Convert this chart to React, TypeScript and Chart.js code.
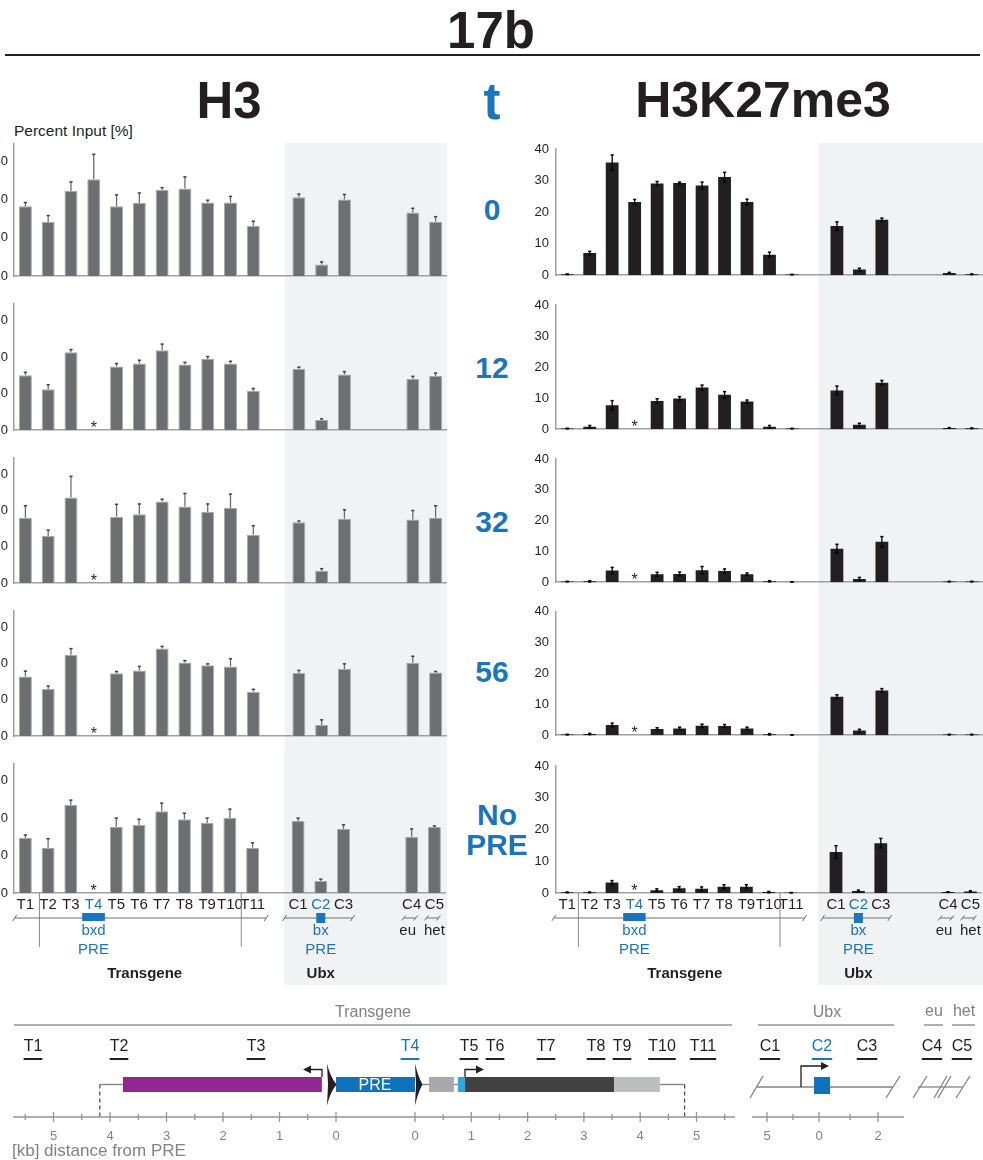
import React, { useEffect, useRef } from 'react';
import { Chart, registerables } from 'chart.js';

Chart.register(...registerables);

const FONT = '"Liberation Sans", Arial, Helvetica, sans-serif';
Chart.defaults.font.family = FONT;

const BLUE = '#1b75bc';
const INK = '#231f20';
const GRAY_TXT = '#808285';
const LINE_GRAY = '#9d9fa2';
const BAND = '#f1f2f3';

// ---------------- data ----------------
const CATEGORIES = ['T1', 'T2', 'T3', 'T4', 'T5', 'T6', 'T7', 'T8', 'T9', 'T10', 'T11', 'C1', 'C2', 'C3', 'C4', 'C5'];
// x tick labels over the 19 slots ('' = spacer slot)
const SLOT_LABELS = ['T1', 'T2', 'T3', 'T4', 'T5', 'T6', 'T7', 'T8', 'T9', 'T10', 'T11', '', 'C1', 'C2', 'C3', '', '', 'C4', 'C5'];
const HIGHLIGHT = ['T4', 'C2'];
const TIMEPOINTS = ['0', '12', '32', '56', 'No PRE'];
const H3_TICKS = [0, 10, 20, 30];
const K27_TICKS = [0, 10, 20, 30, 40];

// H3, Percent Input [%]
const H3_T0 = [18.2, 14.1, 22.2, 25.3, 18.2, 19.1, 22.5, 22.9, 19.2, 19.2, 13.1, 20.6, 3.0, 20.0, 16.6, 14.2];
const H3_T0_ERR = [1.0, 1.7, 2.4, 6.5, 3.0, 2.6, 0.6, 3.0, 0.6, 1.6, 1.2, 0.8, 0.7, 1.3, 1.1, 1.3];
const H3_T12 = [15.0, 11.2, 21.3, null, 17.4, 18.2, 21.8, 17.9, 19.4, 18.2, 10.7, 16.8, 2.8, 15.2, 14.0, 14.8];
const H3_T12_ERR = [0.8, 1.2, 0.7, null, 0.8, 0.9, 1.7, 0.6, 0.7, 0.6, 0.7, 0.4, 0.3, 0.8, 0.7, 0.8];
const H3_T32 = [18.0, 13.0, 23.6, null, 18.3, 19.0, 22.5, 21.1, 19.6, 20.7, 13.3, 16.8, 3.4, 17.7, 17.5, 18.0];
const H3_T32_ERR = [3.3, 1.6, 5.8, null, 3.4, 2.8, 0.6, 3.6, 2.2, 3.8, 2.5, 0.3, 0.6, 2.5, 2.5, 3.3];
const H3_T56 = [16.4, 13.0, 22.4, null, 17.3, 18.1, 24.1, 20.3, 19.5, 19.2, 12.2, 17.4, 3.1, 18.5, 20.2, 17.5];
const H3_T56_ERR = [1.5, 0.8, 1.7, null, 0.5, 1.1, 0.6, 0.5, 0.4, 2.1, 0.7, 0.7, 1.4, 1.4, 1.8, 0.3];
const H3_NOPRE = [14.7, 12.1, 23.5, null, 17.6, 18.2, 21.8, 19.7, 18.7, 20.0, 12.1, 19.2, 3.2, 17.1, 15.0, 17.6];
const H3_NOPRE_ERR = [0.8, 2.4, 1.3, null, 2.4, 1.5, 2.2, 1.6, 1.3, 2.4, 1.3, 0.8, 0.5, 1.1, 2.1, 0.3];

// H3K27me3, Percent Input [%]
const K27_T0 = [0.3, 7.05, 35.7, 23.2, 29.1, 29.2, 28.4, 31.1, 23.2, 6.5, 0.2, 15.6, 1.8, 17.6, 0.7, 0.3];
const K27_T0_ERR = [0.1, 0.5, 2.4, 0.8, 0.6, 0.3, 1.1, 1.5, 0.9, 0.8, 0.1, 1.3, 0.4, 0.5, 0.2, 0.1];
const K27_T12 = [0.2, 0.8, 7.7, null, 9.1, 9.9, 13.4, 11.1, 8.9, 0.8, 0.2, 12.5, 1.4, 15.0, 0.4, 0.3];
const K27_T12_ERR = [0.1, 0.4, 1.5, null, 0.7, 0.6, 0.8, 1.0, 0.5, 0.4, 0.1, 1.4, 0.5, 0.7, 0.1, 0.1];
const K27_T32 = [0.2, 0.3, 3.8, null, 2.6, 2.7, 3.9, 3.6, 2.6, 0.3, 0.1, 10.9, 1.05, 13.1, 0.2, 0.2];
const K27_T32_ERR = [0.1, 0.2, 1.0, null, 0.6, 0.6, 1.2, 0.7, 0.4, 0.2, 0.05, 1.4, 0.5, 1.7, 0.1, 0.1];
const K27_T56 = [0.2, 0.4, 3.3, null, 2.0, 2.2, 3.05, 2.95, 2.2, 0.3, 0.1, 12.5, 1.5, 14.5, 0.2, 0.2];
const K27_T56_ERR = [0.1, 0.2, 0.6, null, 0.4, 0.4, 0.5, 0.5, 0.4, 0.2, 0.05, 0.6, 0.4, 0.6, 0.1, 0.1];
const K27_NOPRE = [0.2, 0.2, 3.3, null, 0.9, 1.5, 1.3, 2.0, 2.0, 0.3, 0.1, 12.9, 0.6, 15.7, 0.3, 0.5];
const K27_NOPRE_ERR = [0.1, 0.1, 0.6, null, 0.4, 0.5, 0.6, 0.6, 0.6, 0.2, 0.05, 2.0, 0.3, 1.5, 0.1, 0.2];

const H3_SERIES = [H3_T0, H3_T12, H3_T32, H3_T56, H3_NOPRE];
const H3_ERRS = [H3_T0_ERR, H3_T12_ERR, H3_T32_ERR, H3_T56_ERR, H3_NOPRE_ERR];
const K27_SERIES = [K27_T0, K27_T12, K27_T32, K27_T56, K27_NOPRE];
const K27_ERRS = [K27_T0_ERR, K27_T12_ERR, K27_T32_ERR, K27_T56_ERR, K27_NOPRE_ERR];

// schematic
const TG_TICKS_LEFT = [5, 4, 3, 2, 1, 0];
const TG_TICKS_RIGHT = [0, 1, 2, 3, 4, 5];
const UBX_TICK_LABELS = ['5', '0', '2'];
const PRIMERS = ['T1', 'T2', 'T3', 'T4', 'T5', 'T6', 'T7', 'T8', 'T9', 'T10', 'T11', 'C1', 'C2', 'C3', 'C4', 'C5'];

// ---------------- layout ----------------
const ROW_TOPS = [125, 290, 444, 597, 750];
const ROW_BOTTOMS = [290, 444, 597, 750, 995];
const ROW_BASES = [276, 432, 586, 738, 893];
const BAND_TOP = 143;
const BAND_BOTTOM = 985;
const PRIMER_X = [33, 119, 256, 410, 469, 495, 546, 596, 622, 662, 703, 770, 822, 867, 932, 962];
const TIME_Y = [210, 368, 522, 672, 830];

type SideKey = 'h3' | 'k27';
const SIDES: Record<SideKey, any> = {
  h3: { left: -20, width: 467, yw: 34, plotH: 132, max: 34.5, ticks: H3_TICKS, fill: '#6d6e71', border: '#a7a9ac', borderWidth: 1, bandOff: 0.62, oneSided: true, errColor: '#6d6e71', capColor: '#414042', tickPad: 6, vlineA: 0.62, lineStart: -0.47 },
  k27: { left: 520, width: 463, yw: 36, plotH: 127, max: 40, ticks: K27_TICKS, fill: '#231f20', border: '#231f20', borderWidth: 0, bandOff: 0.8, oneSided: false, errColor: '#000000', capColor: '#000000', tickPad: 7, vlineA: 0.5, lineStart: -0.6 },
};

function toSlots(vals: (number | null)[]) {
  return SLOT_LABELS.map((l) => (l === '' ? null : vals[CATEGORIES.indexOf(l)]));
}

function slotX(chart: any, f: number) {
  const xs = chart.scales.x;
  const p0 = xs.getPixelForValue(0);
  const p1 = xs.getPixelForValue(1);
  return p0 + f * (p1 - p0);
}

function seg(ctx: CanvasRenderingContext2D, x1: number, y1: number, x2: number, y2: number) {
  ctx.beginPath();
  ctx.moveTo(x1, y1);
  ctx.lineTo(x2, y2);
  ctx.stroke();
}

function BarRow({ side, row }: { side: SideKey; row: number }) {
  const ref = useRef<HTMLCanvasElement>(null);
  const cfg = SIDES[side];
  const top = ROW_TOPS[row];
  const bottom = ROW_BOTTOMS[row];
  const base = ROW_BASES[row];
  const h = bottom - top;
  const isBottom = row === ROW_TOPS.length - 1;

  useEffect(() => {
    const values = toSlots((side === 'h3' ? H3_SERIES : K27_SERIES)[row]);
    const errs = toSlots((side === 'h3' ? H3_ERRS : K27_ERRS)[row]);
    const iT4 = SLOT_LABELS.indexOf('T4');
    const iC1 = SLOT_LABELS.indexOf('C1');
    const iC2 = SLOT_LABELS.indexOf('C2');
    const iC4 = SLOT_LABELS.indexOf('C4');
    const iC5 = SLOT_LABELS.indexOf('C5');
    const Y = (py: number) => py - top;

    const plugin = {
      id: 'deco',
      beforeDraw(chart: any) {
        const ctx = chart.ctx;
        const x0 = slotX(chart, iC1 - cfg.bandOff);
        const y0 = row === 0 ? Y(BAND_TOP) : 0;
        const y1 = isBottom ? Y(BAND_BOTTOM) : h;
        ctx.save();
        ctx.fillStyle = BAND;
        ctx.fillRect(x0, y0, chart.width - x0, y1 - y0);
        ctx.restore();
      },
      afterDatasetsDraw(chart: any) {
        const ctx = chart.ctx;
        const xs = chart.scales.x;
        const ys = chart.scales.y;
        ctx.save();
        values.forEach((v, i) => {
          if (v == null) return;
          const e = errs[i];
          if (!e) return;
          const x = xs.getPixelForValue(i);
          const yT = ys.getPixelForValue(v + e);
          const yB = cfg.oneSided ? ys.getPixelForValue(v) : ys.getPixelForValue(Math.max(v - e, 0));
          ctx.strokeStyle = cfg.errColor;
          ctx.lineWidth = 1.3;
          seg(ctx, x, yB, x, yT);
          ctx.strokeStyle = cfg.capColor;
          ctx.lineWidth = 1.5;
          seg(ctx, x - 1.6, yT, x + 1.6, yT);
          if (!cfg.oneSided) seg(ctx, x - 1.6, yB, x + 1.6, yB);
        });
        if (values[iT4] == null) {
          ctx.fillStyle = INK;
          ctx.font = `16px ${FONT}`;
          ctx.textAlign = 'center';
          ctx.textBaseline = 'alphabetic';
          ctx.fillText('*', xs.getPixelForValue(iT4), ys.getPixelForValue(0) + 3);
        }
        ctx.restore();
      },
      afterDraw(chart: any) {
        if (!isBottom) return;
        const ctx = chart.ctx;
        const sx = (f: number) => slotX(chart, f);
        const slot = sx(1) - sx(0);
        ctx.save();
        ctx.strokeStyle = '#8a8c8e';
        ctx.lineWidth = 1;
        [cfg.vlineA, 9.5].forEach((f) => seg(ctx, sx(f), Y(893), sx(f), Y(947)));
        const ly = Y(918);
        const axisSeg = (a: number, b: number) => {
          ctx.strokeStyle = '#6d6e71';
          ctx.lineWidth = 1;
          seg(ctx, a, ly, b, ly);
          seg(ctx, a - 2, ly + 3, a + 2, ly - 3);
          seg(ctx, b - 2, ly + 3, b + 2, ly - 3);
        };
        axisSeg(sx(cfg.lineStart), sx(10.6));
        axisSeg(sx(iC1 - 0.6), sx(iC1 + 2.4));
        [iC4, iC5].forEach((i) => {
          const c = sx(i) - 2;
          ctx.strokeStyle = '#6d6e71';
          seg(ctx, c - 6, ly, c + 6, ly);
          seg(ctx, c - 8, ly + 2.5, c - 4, ly - 2.5);
          seg(ctx, c + 4, ly + 2.5, c + 8, ly - 2.5);
        });
        ctx.fillStyle = BLUE;
        ctx.fillRect(sx(iT4 - 0.5), Y(913), slot, 8);
        ctx.fillRect(sx(iC2) - 4.5, Y(913), 9, 10);
        ctx.textAlign = 'center';
        ctx.textBaseline = 'middle';
        ctx.font = `15px ${FONT}`;
        ctx.fillText('bxd', sx(iT4), Y(931));
        ctx.fillText('PRE', sx(iT4), Y(950));
        ctx.fillText('bx', sx(iC2), Y(931));
        ctx.fillText('PRE', sx(iC2), Y(950));
        ctx.fillStyle = INK;
        ctx.fillText('eu', sx(iC4) - 4, Y(931));
        ctx.fillText('het', sx(iC5), Y(931));
        ctx.font = `bold 15px ${FONT}`;
        ctx.fillText('Transgene', sx(5.25), Y(974));
        ctx.fillText('Ubx', sx(iC2), Y(974));
        ctx.restore();
      },
    };

    const chart = new Chart(ref.current as HTMLCanvasElement, {
      type: 'bar',
      data: {
        labels: SLOT_LABELS,
        datasets: [
          {
            data: values as any,
            backgroundColor: cfg.fill,
            borderColor: cfg.border,
            borderWidth: cfg.borderWidth,
            barPercentage: 0.57,
            categoryPercentage: 1,
          },
        ],
      },
      options: {
        animation: false,
        responsive: false,
        maintainAspectRatio: false,
        layout: { padding: { top: base - cfg.plotH - top, left: 0, right: 0, bottom: 0 } },
        plugins: { legend: { display: false }, tooltip: { enabled: false } },
        scales: {
          x: {
            grid: { display: false, drawTicks: false },
            border: { display: true, color: LINE_GRAY, width: 1.5 },
            ticks: {
              display: isBottom,
              autoSkip: false,
              maxRotation: 0,
              minRotation: 0,
              padding: 3,
              font: { size: 15, family: FONT },
              color: (c: any) => (HIGHLIGHT.includes(SLOT_LABELS[c.index]) ? BLUE : INK),
            },
            afterFit: (s: any) => {
              s.height = bottom - base;
            },
          },
          y: {
            min: 0,
            max: cfg.max,
            grid: { display: false, drawTicks: false },
            border: { display: true, color: LINE_GRAY, width: 1.5 },
            afterBuildTicks: (s: any) => {
              s.ticks = cfg.ticks.map((v: number) => ({ value: v }));
            },
            ticks: { padding: cfg.tickPad, font: { size: 13, family: FONT }, color: INK },
            afterFit: (s: any) => {
              s.width = cfg.yw;
            },
          },
        },
      } as any,
      plugins: [plugin],
    });
    return () => chart.destroy();
  }, []);

  return (
    <canvas
      ref={ref}
      width={cfg.width}
      height={h}
      style={{ position: 'absolute', left: cfg.left, top, width: cfg.width, height: h }}
    />
  );
}

function Schematic() {
  const ref = useRef<HTMLCanvasElement>(null);
  const TOP = 995;
  const W = 983;
  const H = 165;
  useEffect(() => {
    const tgL = (kb: number) => 336 - 56.5 * kb;
    const tgR = (kb: number) => 415 + 56.3 * kb;
    const plugin = {
      id: 'schematic',
      afterDraw(chart: any) {
        const ctx: CanvasRenderingContext2D = chart.ctx;
        const xs = chart.scales.x;
        const X = (v: number) => xs.getPixelForValue(v);
        const Y = (py: number) => py - TOP;
        ctx.save();
        ctx.textAlign = 'center';
        ctx.textBaseline = 'middle';
        // headers
        ctx.fillStyle = GRAY_TXT;
        ctx.font = `16px ${FONT}`;
        ctx.fillText('Transgene', X(373), Y(1013));
        ctx.fillText('Ubx', X(827), Y(1013));
        ctx.fillText('eu', X(934), Y(1012));
        ctx.fillText('het', X(964), Y(1012));
        ctx.strokeStyle = '#939598';
        ctx.lineWidth = 1.5;
        seg(ctx, X(14), Y(1025), X(732), Y(1025));
        seg(ctx, X(758), Y(1025), X(894), Y(1025));
        seg(ctx, X(924), Y(1025), X(943), Y(1025));
        seg(ctx, X(952), Y(1025), X(975), Y(1025));
        // primers
        ctx.font = `16px ${FONT}`;
        PRIMERS.forEach((p, i) => {
          const c = HIGHLIGHT.includes(p) ? BLUE : INK;
          ctx.fillStyle = c;
          ctx.fillText(p, X(PRIMER_X[i]), Y(1047));
          const w = ctx.measureText(p).width;
          ctx.fillStyle = c;
          ctx.fillRect(X(PRIMER_X[i]) - w / 2, Y(1058), w, 2);
        });
        // transgene construct
        const cy = Y(1084.5);
        const bh = 15;
        ctx.strokeStyle = '#808285';
        ctx.lineWidth = 1.3;
        seg(ctx, X(tgL(4.18)), cy, X(tgL(3.77)), cy);
        seg(ctx, X(tgR(0.1)), cy, X(tgR(0.25)), cy);
        seg(ctx, X(tgR(0.69)), cy, X(tgR(0.76)), cy);
        seg(ctx, X(tgR(4.35)), cy, X(tgR(4.79)), cy);
        ctx.setLineDash([4, 3]);
        ctx.strokeStyle = '#231f20';
        ctx.lineWidth = 1;
        seg(ctx, X(tgL(4.18)), cy, X(tgL(4.18)), Y(1117));
        seg(ctx, X(tgR(4.79)), cy, X(tgR(4.79)), Y(1117));
        ctx.setLineDash([]);
        const box = (a: number, b: number, col: string) => {
          ctx.fillStyle = col;
          ctx.fillRect(X(a), cy - bh / 2, X(b) - X(a), bh);
        };
        box(tgL(3.77), tgL(0.25), '#92278f');
        box(336, 415, '#1072ba');
        box(tgR(0.25), tgR(0.69), '#a7a9ac');
        box(tgR(0.76), tgR(0.89), '#27aae1');
        box(tgR(0.89), tgR(3.54), '#414042');
        box(tgR(3.54), tgR(4.35), '#bcbec0');
        ctx.fillStyle = '#ffffff';
        ctx.font = `16px ${FONT}`;
        ctx.fillText('PRE', X(375), cy + 1);
        // triangles
        ctx.fillStyle = '#231f20';
        [[327, 336.5], [415, 422.5]].forEach(([a, b]) => {
          ctx.beginPath();
          ctx.moveTo(X(a), cy - 21);
          ctx.quadraticCurveTo(X(a) + 3, cy - 8, X(b), cy);
          ctx.quadraticCurveTo(X(a) + 3, cy + 8, X(a), cy + 21);
          ctx.lineTo(X(a) + 1, cy);
          ctx.closePath();
          ctx.fill();
        });
        // promoters
        const promoter = (x: number, yBase: number, yTopP: number, tip: number) => {
          ctx.strokeStyle = '#231f20';
          ctx.fillStyle = '#231f20';
          ctx.lineWidth = 1.3;
          const dir = tip > x ? 1 : -1;
          ctx.beginPath();
          ctx.moveTo(X(x), yBase);
          ctx.lineTo(X(x), yTopP);
          ctx.lineTo(X(tip) - dir * 7, yTopP);
          ctx.stroke();
          ctx.beginPath();
          ctx.moveTo(X(tip), yTopP);
          ctx.lineTo(X(tip) - dir * 8, yTopP - 4);
          ctx.lineTo(X(tip) - dir * 8, yTopP + 4);
          ctx.closePath();
          ctx.fill();
        };
        promoter(322, cy - bh / 2, Y(1069.5), 303);
        promoter(465, cy - bh / 2, Y(1069.5), 484);
        // transgene axis
        const ay = Y(1117);
        ctx.strokeStyle = '#939598';
        ctx.lineWidth = 1.3;
        seg(ctx, X(13), ay, X(735), ay);
        ctx.fillStyle = GRAY_TXT;
        ctx.font = `13px ${FONT}`;
        for (let k = 0; k <= 11; k++) {
          const kb = k / 2;
          const major = k % 2 === 0;
          const hh = major ? 5 : 3;
          [tgL(kb), tgR(kb)].forEach((px) => seg(ctx, X(px), ay - hh, X(px), ay + hh));
        }
        TG_TICKS_LEFT.forEach((kb) => ctx.fillText(String(kb), X(tgL(kb)), Y(1136)));
        TG_TICKS_RIGHT.forEach((kb) => ctx.fillText(String(kb), X(tgR(kb)), Y(1136)));
        // ubx locus
        const uy = Y(1087);
        ctx.strokeStyle = '#808285';
        ctx.lineWidth = 1.3;
        seg(ctx, X(757), uy, X(893), uy);
        seg(ctx, X(750), uy + 11, X(763), uy - 11);
        seg(ctx, X(886), uy + 11, X(900), uy - 11);
        ctx.fillStyle = '#1072ba';
        ctx.fillRect(X(814), Y(1077), 16, 17);
        promoter(801, uy, Y(1066), 829);
        // eu / het marks
        ctx.strokeStyle = '#808285';
        seg(ctx, X(918), uy, X(946), uy);
        seg(ctx, X(946), uy, X(963), uy);
        seg(ctx, X(913), uy + 11, X(927), uy - 11);
        seg(ctx, X(934), uy + 11, X(947), uy - 11);
        seg(ctx, X(938), uy + 11, X(951), uy - 11);
        seg(ctx, X(956), uy + 11, X(970), uy - 11);
        // ubx axis
        ctx.strokeStyle = '#939598';
        seg(ctx, X(752), ay, X(904), ay);
        [767, 819, 878].forEach((px) => seg(ctx, X(px), ay - 5, X(px), ay + 5));
        [793, 850].forEach((px) => seg(ctx, X(px), ay - 3, X(px), ay + 3));
        ctx.fillStyle = GRAY_TXT;
        [767, 819, 878].forEach((px, i) => ctx.fillText(UBX_TICK_LABELS[i], X(px), Y(1136)));
        // caption
        ctx.textAlign = 'left';
        ctx.font = `17px ${FONT}`;
        ctx.fillText('[kb] distance from PRE', X(12), Y(1151));
        ctx.restore();
      },
    };
    const chart = new Chart(ref.current as HTMLCanvasElement, {
      type: 'scatter',
      data: { datasets: [{ data: [] }] },
      options: {
        animation: false,
        responsive: false,
        maintainAspectRatio: false,
        layout: { padding: 0 },
        plugins: { legend: { display: false }, tooltip: { enabled: false } },
        scales: {
          x: { type: 'linear', min: 0, max: W, display: false },
          y: { type: 'linear', min: 0, max: H, display: false },
        },
      } as any,
      plugins: [plugin],
    });
    return () => chart.destroy();
  }, []);
  return <canvas ref={ref} width={W} height={H} style={{ position: 'absolute', left: 0, top: TOP, width: W, height: H }} />;
}

function Txt({ x, y, size, bold, color, children, align }: any) {
  return (
    <div
      style={{
        position: 'absolute',
        left: x,
        top: y,
        transform: align === 'left' ? 'translate(0,-50%)' : 'translate(-50%,-50%)',
        fontSize: size,
        fontWeight: bold ? 'bold' : 'normal',
        color: color || INK,
        lineHeight: 1,
        whiteSpace: 'nowrap',
        fontFamily: FONT,
      }}
    >
      {children}
    </div>
  );
}

export default function App() {
  return (
    <div style={{ position: 'absolute', left: 0, top: 0, width: 983, height: 1160, overflow: 'hidden', background: '#ffffff' }}>
      <Txt x={491} y={30} size={51} bold>17b</Txt>
      <div style={{ position: 'absolute', left: 5, top: 54, width: 975, height: 1.5, background: INK }} />
      <Txt x={229} y={100} size={51} bold>H3</Txt>
      <Txt x={492} y={101} size={51} bold color={BLUE}>t</Txt>
      <Txt x={763} y={100} size={50} bold>H3K27me3</Txt>
      <Txt x={14} y={131} size={15.5} align="left">Percent Input [%]</Txt>
      {ROW_TOPS.map((_, r) => (
        <React.Fragment key={r}>
          <BarRow side="h3" row={r} />
          <BarRow side="k27" row={r} />
        </React.Fragment>
      ))}
      {TIMEPOINTS.map((t, i) => {
        const parts = t.split(' ');
        return parts.map((p, j) => (
          <Txt key={`${i}-${j}`} x={parts.length > 1 ? 497 : 492} y={TIME_Y[i] + (j - (parts.length - 1) / 2) * 30} size={30} bold color={BLUE}>
            {p}
          </Txt>
        ));
      })}
      <Schematic />
    </div>
  );
}
